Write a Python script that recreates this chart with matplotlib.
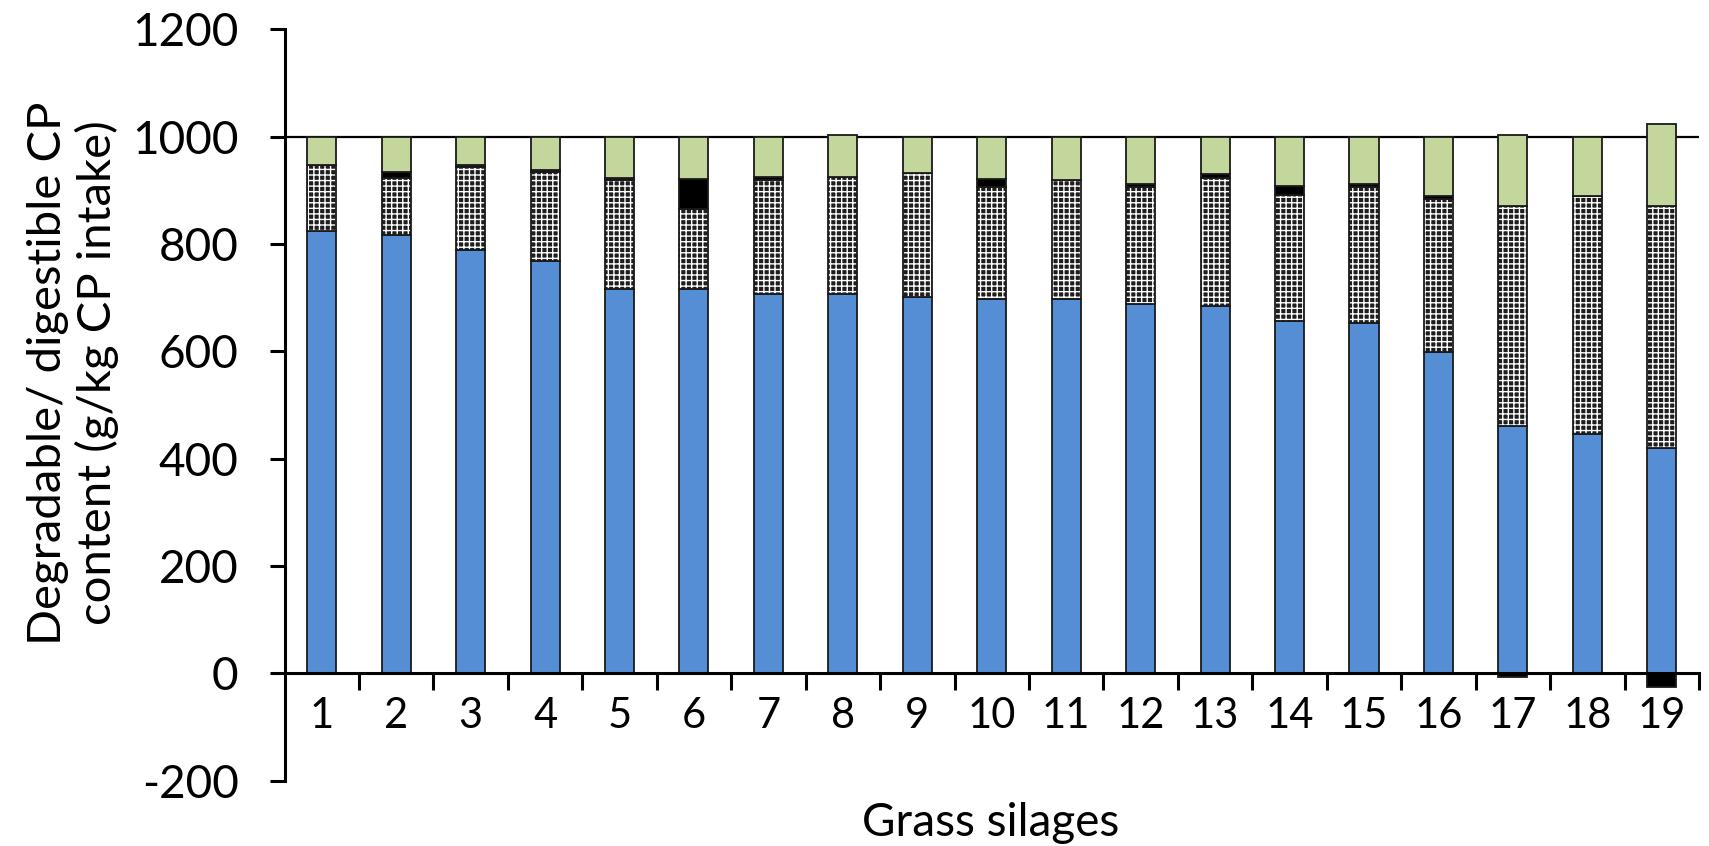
import numpy as np
import matplotlib.pyplot as plt
from matplotlib.ticker import FixedLocator

plt.rcParams['font.family'] = ['Lato', 'DejaVu Sans']
plt.rcParams['axes.unicode_minus'] = False

silages = [str(i) for i in range(1, 20)]
blue = [825, 816, 788, 769, 716, 716, 706, 706, 702, 697, 697, 689, 685, 656, 652, 598, 460, 445, 419]
hatched = [123, 107, 155, 165, 203, 149, 213, 219, 231, 210, 222, 217, 238, 236, 254, 285, 410, 444, 451]
black = [0, 11, 5, 4, 4, 56, 6, -2, 0, 15, -2, 6, 7, 16, 6, 6, -8, 0, -25]
green = [52, 66, 52, 62, 77, 79, 75, 78, 67, 78, 81, 88, 70, 92, 88, 111, 133, 111, 153]

blue = np.array(blue)
hatched = np.array(hatched)
black = np.array(black)
green = np.array(green)
x = np.arange(len(silages))
w = 0.39

fig = plt.figure(figsize=(17.09, 8.46), dpi=100)
ax = fig.add_axes([284.5 / 1709, 1 - 780.5 / 846, (1699 - 284.5) / 1709, (780.5 - 29.4) / 846])

ax.axhline(1000, color='black', lw=1.6, zorder=1)

edge = dict(edgecolor='#1a1a1a', linewidth=1.3, zorder=3)
ax.bar(x, blue, w, color='#558ED5', **edge)
# hatched segment: dark face with white hatch, then black outline on top
ax.bar(x, hatched, w, bottom=blue, color='#1e1e1e', edgecolor='white', hatch='+++', linewidth=0, zorder=3)
ax.bar(x, hatched, w, bottom=blue, fill=False, **edge)
pos_black = np.clip(black, 0, None)
neg_black = np.clip(black, None, 0)
ax.bar(x, pos_black, w, bottom=blue + hatched, color='black', **edge)
ax.bar(x, neg_black, w, bottom=0, color='black', **edge)
ax.bar(x, green, w, bottom=blue + hatched + pos_black, color='#C3D69B', **edge)

ax.set_xlim(-0.5, len(silages) - 0.5)
ax.set_ylim(-200, 1200)
ax.set_yticks(np.arange(-200, 1201, 200))
ax.set_xticks(x)
ax.set_xticklabels(silages)
ax.xaxis.set_minor_locator(FixedLocator(np.arange(0.5, len(silages), 1.0)))

for s in ['top', 'right']:
    ax.spines[s].set_visible(False)
ax.spines['bottom'].set_position(('data', 0))
ax.spines['bottom'].set_linewidth(2.2)
ax.spines['left'].set_linewidth(2.2)
ax.spines['bottom'].set_zorder(4)

ax.tick_params(axis='y', direction='out', length=11, width=2.2, pad=22, labelsize=33)
ax.tick_params(axis='x', which='major', length=0, pad=17, labelsize=30)
ax.tick_params(axis='x', which='minor', direction='out', length=12, width=2.2)

fig.text(73 / 1709, 1 - 373 / 846, 'Degradable/ digestible CP\ncontent (g/kg CP intake)',
         rotation=90, ha='center', va='center', multialignment='center',
         fontsize=34, linespacing=1.15)
fig.text(991 / 1709, 1 - 823 / 846, 'Grass silages', ha='center', va='center', fontsize=33)

fig.savefig('out.png', dpi=100)
